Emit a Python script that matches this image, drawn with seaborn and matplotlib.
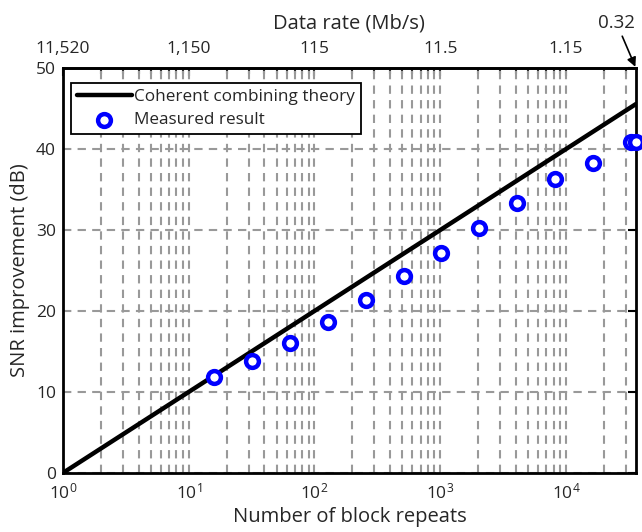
import numpy as np
import pandas as pd
import matplotlib
matplotlib.use("Agg")
import matplotlib.pyplot as plt
import seaborn as sns
from matplotlib.ticker import LogLocator, NullFormatter

# Data
repeats = [16, 32, 64, 128, 256, 512, 1024, 2048, 4096, 8192, 16384, 32768, 36000]
snr_db = [11.8, 13.8, 16.0, 18.6, 21.3, 24.3, 27.2, 30.2, 33.3, 36.3, 38.3, 40.9, 40.9]

theory_repeats = [1, 36000]
theory_db = [0, 45.56]

top_tick_pos = [1, 10, 100, 1000, 10000]
top_tick_labels = ["11,520", "1,150", "115", "11.5", "1.15"]
end_rate_label = "0.32"

measured = pd.DataFrame({"repeats": repeats, "snr": snr_db})
theory = pd.DataFrame({"repeats": theory_repeats, "snr": theory_db})

sns.set_style("white")
plt.rcParams["font.family"] = ["Open Sans", "DejaVu Sans"]
plt.rcParams["font.size"] = 12.5

fig = plt.figure(figsize=(6.42, 5.32), dpi=100)
ax = fig.add_axes([0.098, 0.111, 0.8925, 0.761])

sns.lineplot(data=theory, x="repeats", y="snr", ax=ax, color="black", linewidth=3.2,
             label="Coherent combining theory", zorder=3)
sns.scatterplot(data=measured, x="repeats", y="snr", ax=ax, marker="o", s=85,
                facecolor="white", edgecolor="blue", linewidth=3.2,
                label="Measured result", zorder=4, clip_on=False)

ax.set_xscale("log")
ax.set_xlim(1, 36000)
ax.set_ylim(0, 50)
ax.set_yticks([0, 10, 20, 30, 40, 50])
ax.xaxis.set_minor_locator(LogLocator(base=10, subs=np.arange(2, 10)))
ax.xaxis.set_minor_formatter(NullFormatter())
ax.grid(True, which="major", axis="both", color="#999999", linestyle=(0, (4, 3)), linewidth=1.5)
ax.grid(True, which="minor", axis="x", color="#999999", linestyle=(0, (4, 3)), linewidth=1.5)

ax.set_xlabel("Number of block repeats", fontsize=14.5, labelpad=3)
ax.set_ylabel("SNR improvement (dB)", fontsize=14.5, labelpad=4)
ax.tick_params(which="both", direction="in", top=False, right=True, labelsize=12.5, width=1.5, color="black")
ax.tick_params(which="major", length=6)
ax.tick_params(axis="x", which="major", pad=7)
ax.tick_params(axis="y", which="major", pad=5)
ax.tick_params(which="minor", length=4)
for sp in ax.spines.values():
    sp.set_color("black")
    sp.set_linewidth(2)

top = ax.secondary_xaxis("top")
top.set_xticks(top_tick_pos)
top.set_xticklabels(top_tick_labels)
top.xaxis.set_minor_locator(LogLocator(base=10, subs=np.arange(2, 10)))
top.xaxis.set_minor_formatter(NullFormatter())
top.tick_params(which="both", direction="in", labelsize=12.5, width=1.5)
top.tick_params(which="major", length=6, pad=8)
top.tick_params(which="minor", length=4)
top.set_xlabel("Data rate (Mb/s)", fontsize=14.5, labelpad=9)
top.spines["top"].set_linewidth(2)

ax.annotate(end_rate_label, xy=(1.0, 1.0), xycoords="axes fraction",
            xytext=(0.966, 1.09), textcoords="axes fraction",
            ha="center", va="bottom", fontsize=13.5,
            arrowprops=dict(arrowstyle="-|>", color="black", lw=1.2, shrinkA=1, shrinkB=1))

leg = ax.legend(loc="upper left", bbox_to_anchor=(0.014, 0.962), frameon=True, fancybox=False,
                edgecolor="black", framealpha=1, borderpad=0.35, labelspacing=0.4,
                handlelength=3.2, handletextpad=0.15, borderaxespad=0, fontsize=12.3)
leg.get_frame().set_linewidth(1.3)

fig.savefig("out.png", dpi=100)
